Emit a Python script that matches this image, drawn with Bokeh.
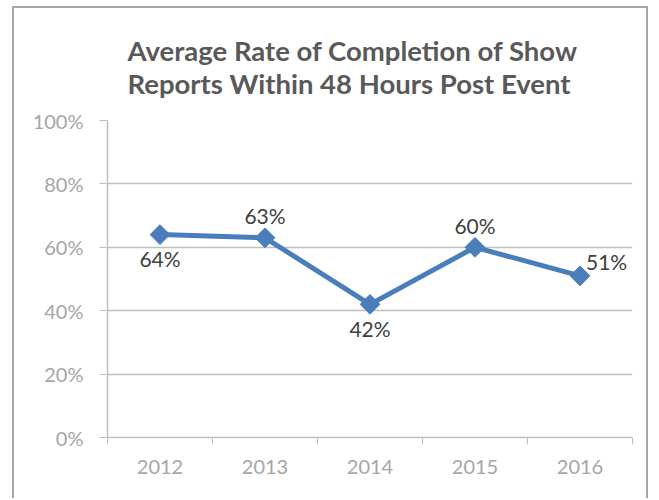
import numpy as np
from bokeh.plotting import figure
from bokeh.models import (ColumnDataSource, FixedTicker, NumeralTickFormatter,
                          Range1d, Label, Title)
from bokeh.embed import file_html
from bokeh.resources import INLINE

# ---- data ----
years = ["2012", "2013", "2014", "2015", "2016"]
rates = [0.64, 0.63, 0.42, 0.60, 0.51]
label_pos = ["below", "above", "below", "above", "right"]
title_lines = ["Average Rate of Completion of Show",
               "Reports Within 48 Hours Post Event"]
y_ticks = [0, 0.2, 0.4, 0.6, 0.8, 1.0]

FONT = "Lato"
BLUE = "#4a7ebb"
GRID = "#bfbfbf"
TICKC = "#a6a6a6"

n = len(years)
xs = list(np.arange(n) + 0.5)

p = figure(width=636, height=492, output_backend="svg", toolbar_location=None,
           x_range=Range1d(0, n), y_range=Range1d(0, 1),
           min_border_left=93, min_border_right=18, min_border_top=112,
           min_border_bottom=63)
p.outline_line_color = None
p.background_fill_color = "white"
p.border_fill_color = "white"
p.styles = {"margin-left": "12px", "margin-top": "6px",
            "border-left": "2px solid #a6a6a6",
            "border-top": "2px solid #a6a6a6",
            "border-right": "2px solid #a6a6a6"}

# axes
xt = FixedTicker(ticks=xs, minor_ticks=list(range(n + 1)))
p.xaxis.ticker = xt
p.xaxis.major_label_overrides = {float(x): y for x, y in zip(xs, years)}
p.xaxis.major_tick_line_color = None
p.xaxis.minor_tick_line_color = GRID
p.xaxis.minor_tick_out = 7
p.xaxis.minor_tick_in = 0
p.xaxis.axis_line_color = GRID
p.xaxis.axis_line_width = 1.5
p.xaxis.major_label_text_font = FONT
p.xaxis.major_label_text_font_size = "20px"
p.xaxis.major_label_text_color = TICKC
p.xaxis.major_label_standoff = 15

yt = FixedTicker(ticks=y_ticks, minor_ticks=[])
p.yaxis.ticker = yt
p.yaxis.formatter = NumeralTickFormatter(format="0%")
p.yaxis.major_tick_line_color = GRID
p.yaxis.major_tick_out = 8
p.yaxis.major_tick_in = 0
p.yaxis.minor_tick_line_color = None
p.yaxis.axis_line_color = GRID
p.yaxis.axis_line_width = 1.5
p.yaxis.major_label_text_font = FONT
p.yaxis.major_label_text_font_size = "20px"
p.yaxis.major_label_text_color = TICKC
p.yaxis.major_label_standoff = 16

p.xgrid.grid_line_color = None
p.ygrid.ticker = yt
p.ygrid.grid_line_color = GRID
p.ygrid.grid_line_width = 1.5

# series
src = ColumnDataSource(dict(x=xs, y=rates))
p.line("x", "y", source=src, line_color=BLUE, line_width=5)
p.scatter("x", "y", source=src, marker="square", size=14, angle=np.pi/4,
          fill_color=BLUE, line_color=BLUE)

# data labels
offs = {"below": (0, 24, "center"), "above": (0, -22, "center"),
        "right": (6, -14, "left")}
for x, r, pos in zip(xs, rates, label_pos):
    dx, dy, al = offs[pos]
    p.add_layout(Label(x=x, y=r, text=f"{round(r*100)}%", x_offset=dx,
                       y_offset=-dy, text_align=al, text_baseline="middle",
                       text_font=FONT, text_font_size="21px",
                       text_color="#404040"))

# two-line title
p.add_layout(Title(text="\n".join(title_lines), align="left", offset=20,
                   text_font=FONT, text_font_style="bold",
                   text_font_size="27.5px", text_color="#595959",
                   standoff=41), "above")

open("out.html", "w").write(file_html(p, INLINE))
